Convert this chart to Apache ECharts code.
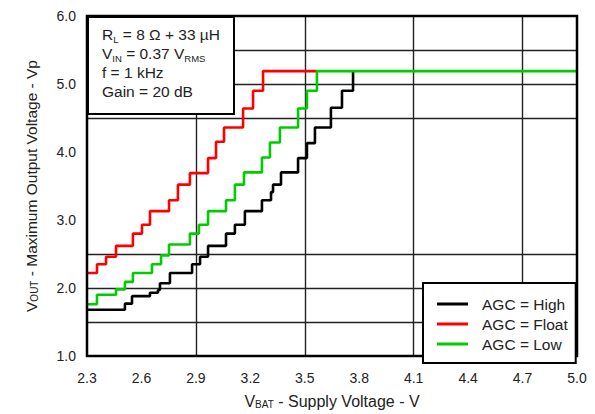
<!DOCTYPE html>
<html>
<head>
<meta charset="utf-8">
<script src="https://cdn.jsdelivr.net/npm/echarts@6/dist/echarts.min.js"></script>
<style>
  html, body { margin: 0; padding: 0; background: #fff; }
  #chart { width: 595px; height: 414px; }
</style>
</head>
<body>
<div id="chart"></div>
<script>
// ---- data ----
const seriesNames = ['AGC = High', 'AGC = Float', 'AGC = Low'];

// step points: supply voltage where each new level starts, and the level
const highV = [2.300, 2.509, 2.548, 2.647, 2.691, 2.702, 2.757, 2.879, 2.923, 2.967, 3.066, 3.115, 3.170, 3.264, 3.314, 3.325, 3.369, 3.463, 3.512, 3.556, 3.644, 3.705, 3.766];
const highY = [1.68, 1.77, 1.88, 1.93, 1.97, 2.07, 2.22, 2.35, 2.46, 2.62, 2.80, 2.93, 3.13, 3.29, 3.41, 3.52, 3.70, 3.91, 4.13, 4.36, 4.65, 4.90, 5.19];

const floatV = [2.300, 2.355, 2.405, 2.460, 2.553, 2.603, 2.647, 2.752, 2.801, 2.867, 2.967, 3.011, 3.055, 3.160, 3.215, 3.270, 3.567];
const floatY = [2.22, 2.35, 2.46, 2.62, 2.80, 2.93, 3.13, 3.29, 3.52, 3.69, 3.91, 4.15, 4.36, 4.64, 4.90, 5.19, 5.19];

const lowV = [2.300, 2.355, 2.460, 2.509, 2.553, 2.658, 2.708, 2.752, 2.867, 2.917, 2.967, 3.066, 3.115, 3.165, 3.264, 3.308, 3.363, 3.463, 3.512, 3.567, 5.000];
const lowY = [1.76, 1.90, 1.98, 2.09, 2.22, 2.35, 2.48, 2.64, 2.80, 2.93, 3.13, 3.29, 3.52, 3.70, 3.92, 4.14, 4.36, 4.64, 4.90, 5.19, 5.19];

// axes
const xTickLabels = ['2.3', '2.6', '2.9', '3.2', '3.5', '3.8', '4.1', '4.4', '4.7', '5.0'];
const yTickLabels = ['1.0', '2.0', '3.0', '4.0', '5.0', '6.0'];
const xGridLines = [2.9, 3.5, 4.1, 4.7];
const yGridLines = [1.5, 2.0, 2.5, 4.5, 5.0, 5.5];

const annotationLines = ['R{s|L} = 8 Ω + 33 µH', 'V{s|IN} = 0.37 V{s|RMS}', 'f = 1 kHz', 'Gain = 20 dB'];

// ---- chart ----
const FONT = 'Liberation Sans, Arial, sans-serif';
const TXT = '#222';
const pair = (xs, ys) => xs.map((x, i) => [x, ys[i]]);

const xMin = parseFloat(xTickLabels[0]);
const xMax = parseFloat(xTickLabels[xTickLabels.length - 1]);
const xStep = parseFloat(xTickLabels[1]) - xMin;
const yMin = parseFloat(yTickLabels[0]);
const yMax = parseFloat(yTickLabels[yTickLabels.length - 1]);
const yStep = parseFloat(yTickLabels[1]) - yMin;

const chart = echarts.init(document.getElementById('chart'), null, { renderer: 'svg' });

const lineSeries = (name, data, color) => ({
  name, type: 'line', data, step: 'end', showSymbol: false, symbol: 'none',
  lineStyle: { color, width: 2.6 }, itemStyle: { color }, z: 5, animation: false
});

chart.setOption({
  animation: false,
  backgroundColor: '#fff',
  textStyle: { fontFamily: FONT },
  grid: { left: 87, right: 18, top: 16, bottom: 53, show: true, borderColor: '#000', borderWidth: 2.5, backgroundColor: 'transparent', z: 10 },
  xAxis: {
    type: 'value', min: xMin, max: xMax, interval: xStep,
    axisLine: { show: false }, axisTick: { show: false }, splitLine: { show: false },
    axisLabel: { color: TXT, fontSize: 14, fontFamily: FONT, margin: 15, formatter: v => v.toFixed(1) },
    name: 'V{s|BAT} - Supply Voltage - V', nameLocation: 'middle', nameGap: 37,
    nameTextStyle: { color: TXT, fontSize: 16, fontFamily: FONT,
      rich: { s: { fontSize: 10, fontFamily: FONT, color: TXT, verticalAlign: 'bottom', lineHeight: 10 } } }
  },
  yAxis: {
    type: 'value', min: yMin, max: yMax, interval: yStep,
    axisLine: { show: false }, axisTick: { show: false }, splitLine: { show: false },
    axisLabel: { color: TXT, fontSize: 14, fontFamily: FONT, margin: 11, formatter: v => v.toFixed(1) },
    name: 'V{s|OUT} - Maximum Output Voltage - Vp', nameLocation: 'middle', nameGap: 48,
    nameTextStyle: { color: TXT, fontSize: 15.5, fontFamily: FONT,
      rich: { s: { fontSize: 10, fontFamily: FONT, color: TXT, verticalAlign: 'bottom', lineHeight: 10 } } }
  },
  legend: {
    data: seriesNames.map(n => ({ name: n, icon: 'rect' })),
    orient: 'vertical', left: 423, top: 283, width: 154, height: 78,
    padding: [13, 8, 11, 14], itemWidth: 31, itemHeight: 3, itemGap: 4,
    backgroundColor: '#fff', borderColor: '#000', borderWidth: 2,
    textStyle: { color: TXT, fontSize: 15.5, fontFamily: FONT, lineHeight: 16, padding: [0, 0, 0, 9] },
    selectedMode: false, z: 20
  },
  graphic: [
    { type: 'rect', left: 87, top: 16, shape: { width: 146, height: 97 },
      style: { fill: '#fff', stroke: '#000', lineWidth: 2 }, z: 20 },
    { type: 'text', left: 102, top: 25, z: 21,
      style: { text: annotationLines.join('\n'), fill: TXT, fontSize: 15.5, fontFamily: FONT, lineHeight: 19,
        rich: { s: { fontSize: 9.5, fontFamily: FONT, fill: TXT, verticalAlign: 'bottom', lineHeight: 13 } } } }
  ],
  series: [
    { name: 'grid', type: 'line', data: [], silent: true, z: 1,
      markLine: { silent: true, symbol: 'none', animation: false, label: { show: false },
        lineStyle: { color: '#222', width: 1.4, type: 'solid' },
        data: xGridLines.map(v => ({ xAxis: v })).concat(yGridLines.map(v => ({ yAxis: v }))) } },
    lineSeries(seriesNames[0], pair(highV, highY), '#000000'),
    lineSeries(seriesNames[1], pair(floatV, floatY), '#ff0000'),
    lineSeries(seriesNames[2], pair(lowV, lowY), '#00cc00')
  ]
});
</script>
</body>
</html>
